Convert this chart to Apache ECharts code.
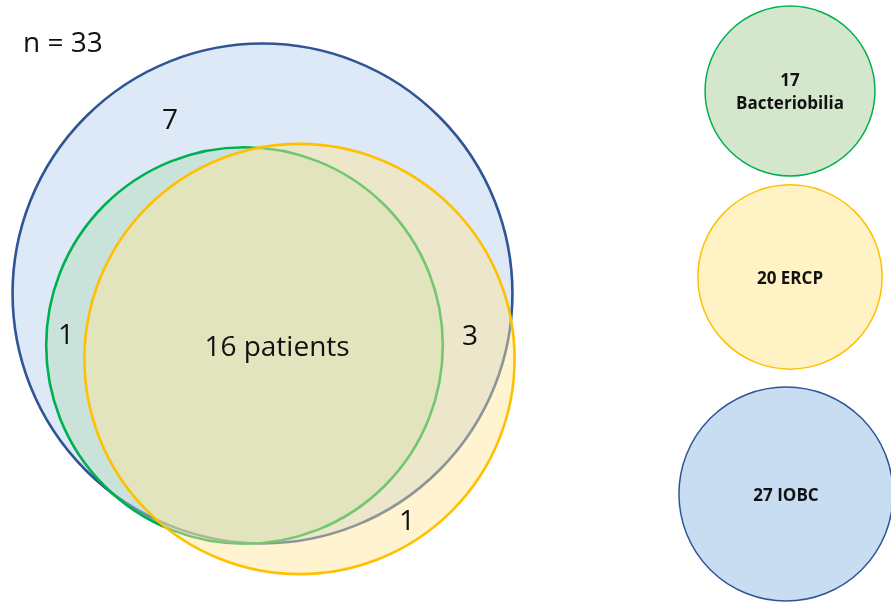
<!DOCTYPE html>
<html>
<head>
<meta charset="utf-8">
<script src="https://cdn.jsdelivr.net/npm/echarts@6/dist/echarts.min.js"></script>
<style>
html,body{margin:0;padding:0;background:#fff;}
#chart{width:891px;height:605px;}
</style>
</head>
<body>
<div id="chart"></div>
<script>
// ---- data ----
var setNames = ['IOBC', 'Bacteriobilia', 'ERCP'];
var setTotals = [27, 17, 20];
var totalN = 33;
var regionNames = ['IOBC only', 'Bacteriobilia + IOBC', 'All three', 'ERCP + IOBC', 'ERCP only'];
var regionCounts = [7, 1, 16, 3, 1];
var regionSuffix = ['', '', ' patients', '', ''];
var legendLabels = ['17\nBacteriobilia', '20 ERCP', '27 IOBC'];
var legendOrder = [1, 2, 0]; // which set each legend circle shows

// ---- layout (layout units = pixels of the 891x605 canvas) ----
var mainCenters = [[262.5, 293.5], [244.5, 345.5], [299.5, 359]];
var mainScale = 48.1;        // radius = scale * sqrt(count)
var legendCenters = [[790, 91], [790, 277], [786, 494]];
var legendScale = 20.6;
var regionLabelPos = [[170, 121], [66, 336], [277, 348], [470, 337], [407, 522]];
var strokeColors = ['#2F5597', '#00B050', '#FFC000'];
var mainFills = ['#DDE9F6', 'rgba(178,220,186,0.45)', 'rgba(255,228,150,0.45)'];
var legendFills = ['#C9DDF2', '#D4E7CC', '#FFF2C4'];

var chart = echarts.init(document.getElementById('chart'), null, {renderer: 'canvas'});

var mainData = setTotals.map(function (n, i) {
  return [mainCenters[i][0], mainCenters[i][1], n, i];
});
var legendData = legendOrder.map(function (si, j) {
  return [legendCenters[j][0], legendCenters[j][1], setTotals[si], si, j];
});
var labelData = regionCounts.map(function (c, i) {
  return [regionLabelPos[i][0], regionLabelPos[i][1], c, i];
});

function circleItem(scale, fills, lw) {
  return function (params, api) {
    var c = api.coord([api.value(0), api.value(1)]);
    var unit = api.size([1, 1])[0];
    var r = scale * Math.sqrt(api.value(2)) * unit;
    var si = api.value(3);
    return {
      type: 'circle',
      shape: {cx: c[0], cy: c[1], r: r},
      style: {fill: fills[si], stroke: strokeColors[si], lineWidth: lw}
    };
  };
}

var option = {
  animation: false,
  grid: {left: 0, right: 0, top: 0, bottom: 0},
  xAxis: {type: 'value', min: 0, max: 891, show: false},
  yAxis: {type: 'value', min: 0, max: 605, inverse: true, show: false},
  series: [
    {
      type: 'custom',
      name: 'main',
      data: mainData,
      renderItem: circleItem(mainScale, mainFills, 2.6),
      silent: true
    },
    {
      type: 'custom',
      name: 'legend',
      data: legendData,
      renderItem: function (params, api) {
        var c = api.coord([api.value(0), api.value(1)]);
        var unit = api.size([1, 1])[0];
        var r = legendScale * Math.sqrt(api.value(2)) * unit;
        var si = api.value(3);
        var j = api.value(4);
        return {
          type: 'group',
          children: [
            {
              type: 'circle',
              shape: {cx: c[0], cy: c[1], r: r},
              style: {fill: legendFills[si], stroke: strokeColors[si], lineWidth: 1.5}
            },
            {
              type: 'text',
              x: c[0], y: c[1] + 2,
              style: {
                text: legendLabels[j],
                fill: '#111',
                font: 'bold 17px "Open Sans", sans-serif',
                align: 'center',
                verticalAlign: 'middle',
                lineHeight: 23
              }
            }
          ]
        };
      },
      silent: true
    },
    {
      type: 'custom',
      name: 'labels',
      data: labelData,
      renderItem: function (params, api) {
        var c = api.coord([api.value(0), api.value(1)]);
        var i = api.value(3);
        return {
          type: 'text',
          x: c[0], y: c[1],
          style: {
            text: String(api.value(2)) + regionSuffix[i],
            fill: '#111',
            font: '28px "Open Sans", sans-serif',
            align: 'center',
            verticalAlign: 'middle'
          }
        };
      },
      silent: true
    }
  ],
  graphic: [
    {
      type: 'text',
      left: 23,
      top: 30,
      style: {
        text: 'n = ' + totalN,
        fill: '#111',
        font: '28px "Open Sans", sans-serif'
      }
    }
  ]
};
chart.setOption(option);
</script>
</body>
</html>
